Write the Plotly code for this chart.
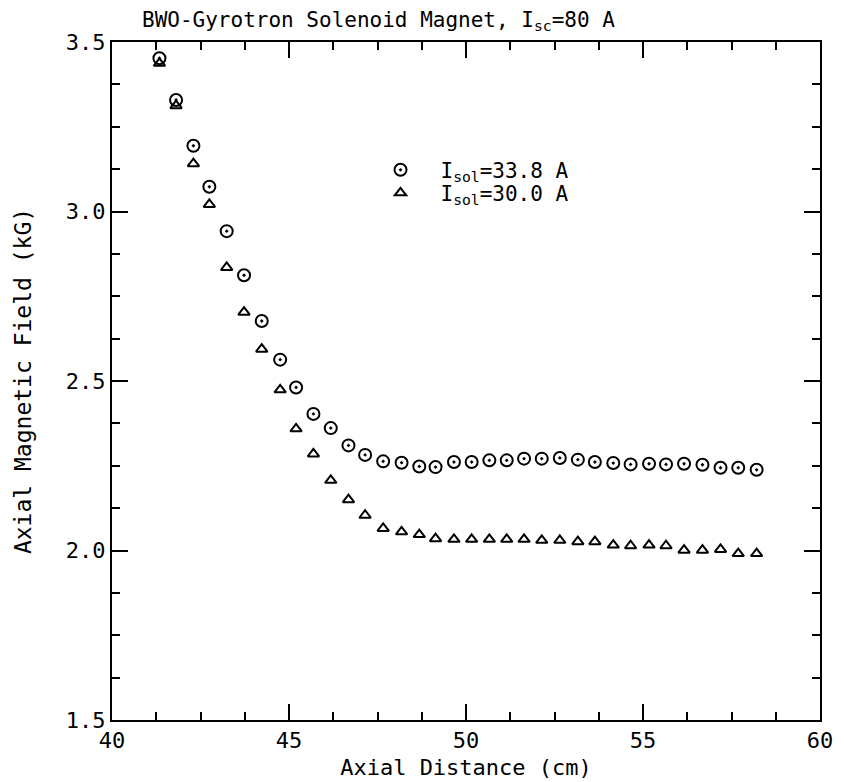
import plotly.graph_objects as go

# Axial distance (cm)
x_pos = [41.34, 41.81, 42.30, 42.75, 43.24, 43.73, 44.23, 44.75, 45.20, 45.69,
         46.18, 46.68, 47.15, 47.66, 48.18, 48.68, 49.14, 49.66, 50.16, 50.66,
         51.15, 51.64, 52.14, 52.65, 53.16, 53.64, 54.16, 54.65, 55.17, 55.65,
         56.16, 56.68, 57.19, 57.69, 58.21]

# Isol = 33.8 A (circles)
b_338 = [3.452, 3.329, 3.194, 3.073, 2.942, 2.812, 2.677, 2.563, 2.481, 2.403,
         2.361, 2.310, 2.282, 2.263, 2.259, 2.248, 2.246, 2.261, 2.261, 2.266,
         2.266, 2.271, 2.271, 2.273, 2.268, 2.261, 2.258, 2.254, 2.256, 2.254,
         2.256, 2.253, 2.244, 2.244, 2.238]

# Isol = 30.0 A (triangles)
b_300 = [3.437, 3.312, 3.141, 3.021, 2.835, 2.703, 2.594, 2.474, 2.359, 2.285,
         2.207, 2.150, 2.104, 2.065, 2.055, 2.047, 2.035, 2.033, 2.033, 2.033,
         2.033, 2.033, 2.030, 2.030, 2.026, 2.026, 2.016, 2.014, 2.016, 2.014,
         2.001, 2.001, 2.003, 1.991, 1.991]

x_ticks = [40, 45, 50, 55, 60]
y_ticks = [1.5, 2.0, 2.5, 3.0, 3.5]

FONT = "DejaVu Sans Mono"

fig = go.Figure()
fig.add_trace(go.Scatter(
    x=x_pos, y=b_338, mode="markers", name="I<sub>sol</sub>=33.8 A", legend="legend",
    marker=dict(symbol="circle-open-dot", size=12, color="black",
                line=dict(width=2, color="black"))))
fig.add_trace(go.Scatter(
    x=x_pos, y=b_300, mode="markers", name="I<sub>sol</sub>=30.0 A", legend="legend2",
    marker=dict(symbol="triangle-up-open", size=10, color="black",
                line=dict(width=2, color="black"))))

axis_common = dict(
    showgrid=False, zeroline=False, showline=True, linecolor="black",
    linewidth=2, mirror="ticks", ticks="inside", ticklen=16, tickwidth=2,
    tickcolor="black", tickfont=dict(family=FONT, size=22, color="black"),
    automargin=False,
)

fig.update_xaxes(
    range=[40, 60], tickvals=x_ticks, ticktext=[str(v) for v in x_ticks],
    minor=dict(dtick=1.25, ticks="inside", ticklen=8, tickwidth=2, tickcolor="black"),
    title=dict(text="Axial Distance (cm)", font=dict(family=FONT, size=22, color="black"),
               standoff=7),
    **axis_common)
fig.update_yaxes(
    range=[1.5, 3.5], tickvals=y_ticks, ticktext=[f"{v:.1f}" for v in y_ticks],
    minor=dict(dtick=0.125, ticks="inside", ticklen=8, tickwidth=2, tickcolor="black"),
    title=dict(text="Axial Magnetic Field (kG)", font=dict(family=FONT, size=23, color="black"),
               standoff=28),
    **axis_common)

leg_common = dict(xanchor="left", yanchor="middle", bgcolor="rgba(0,0,0,0)",
                  font=dict(family=FONT, size=21, color="black"), itemwidth=70)

fig.update_layout(
    width=844, height=782,
    margin=dict(l=112, r=24, t=42, b=62, autoexpand=False),
    paper_bgcolor="white", plot_bgcolor="white",
    font=dict(family=FONT, size=22, color="black"),
    showlegend=True,
    legend=dict(x=0.351, y=0.811, **leg_common),
    legend2=dict(x=0.351, y=0.777, **leg_common),
    annotations=[dict(
        text="BWO-Gyrotron Solenoid Magnet, I<sub>sc</sub>=80 A",
        xref="paper", yref="paper", x=0.04, y=1, xanchor="left", yanchor="bottom",
        yshift=6, showarrow=False, font=dict(family=FONT, size=21, color="black"))],
)

fig.write_html("out.html")
